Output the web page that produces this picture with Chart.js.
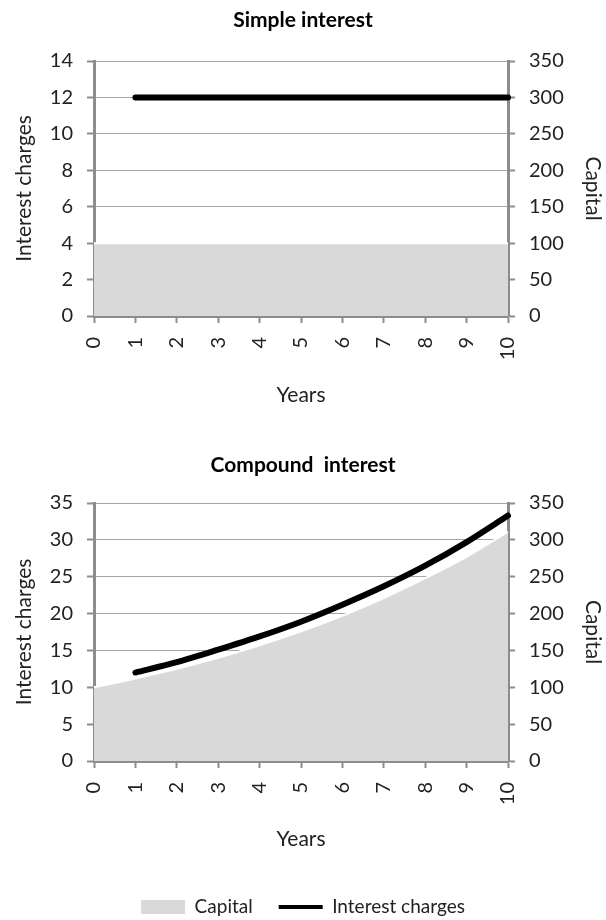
<!DOCTYPE html>
<html>
<head>
<meta charset="utf-8">
<script src="https://cdn.jsdelivr.net/npm/chart.js@4/dist/chart.umd.min.js"></script>
<style>
    html, body { margin: 0; padding: 0; background: #fff; overflow: hidden; }
    .box { position: absolute; left: 0; width: 606px; }
</style>
</head>
<body>
<div class="box" style="top:0;height:440px"><canvas id="simpleChart" width="606" height="440"></canvas></div>
<div class="box" style="top:440px;height:480px"><canvas id="compoundChart" width="606" height="480"></canvas></div>
<script>
// Data
const years = ['0', '1', '2', '3', '4', '5', '6', '7', '8', '9', '10'];

const simpleCapital = [100, 100, 100, 100, 100, 100, 100, 100, 100, 100, 100];
const simpleInterest = [null, 12, 12, 12, 12, 12, 12, 12, 12, 12, 12];

const compoundCapital = [100, 112, 125, 140, 157, 176, 197, 221, 248, 277, 311];
const compoundInterest = [null, 12, 13.4, 15.1, 16.9, 18.9, 21.2, 23.7, 26.5, 29.7, 33.3];

// Axis ranges and tick steps
const simpleInterestAxis = { max: 14, step: 2 };
const compoundInterestAxis = { max: 35, step: 5 };
const capitalAxis = { max: 350, step: 50 };

Chart.defaults.font.family = 'Lato, "DejaVu Sans", sans-serif';
Chart.defaults.color = '#222';

const axisGray = '#8c8c8c';
const gridGray = '#a6a6a6';

// Builds one of the two charts; layout numbers keep plot areas where the reference has them
function makeChart(canvasId, title, capital, interest, leftAxis, opts) {
    const ctx = document.getElementById(canvasId).getContext('2d');

    return new Chart(ctx, {
        type: 'line',
        data: {
            labels: years,
            datasets: [
                {
                    label: 'Capital',
                    data: capital,
                    yAxisID: 'y1',
                    fill: 'origin',
                    backgroundColor: '#d9d9d9',
                    borderColor: '#ffffff',
                    borderWidth: 2,
                    pointRadius: 0,
                    tension: 0.3
                },
                {
                    label: 'Interest charges',
                    data: interest,
                    yAxisID: 'y',
                    fill: false,
                    borderColor: '#000',
                    backgroundColor: '#000',
                    borderWidth: 6,
                    borderCapStyle: 'round',
                    borderJoinStyle: 'round',
                    pointRadius: 0,
                    tension: 0.3
                }
            ]
        },
        options: {
            responsive: false,
            animation: false,
            devicePixelRatio: 1,
            layout: { padding: { left: 0, right: 0, top: 0, bottom: opts.bottomPad } },
            plugins: {
                tooltip: { enabled: false },
                title: {
                    display: true,
                    text: title,
                    color: '#000',
                    font: { size: 21, weight: 'bold' },
                    padding: { top: opts.titleTop, bottom: opts.titleBottom }
                },
                legend: {
                    display: opts.legend,
                    position: 'bottom',
                    labels: {
                        usePointStyle: true,
                        pointStyleWidth: 44,
                        boxHeight: 14,
                        padding: 26,
                        font: { size: 19 },
                        color: '#222',
                        generateLabels: chart => Chart.defaults.plugins.legend.labels.generateLabels(chart).map((item, i) => {
                            if (i === 0) {
                                item.pointStyle = 'rect';
                                item.fillStyle = '#d9d9d9';
                                item.lineWidth = 0;
                            } else {
                                item.pointStyle = 'line';
                                item.strokeStyle = '#000';
                                item.lineWidth = 4;
                            }
                            return item;
                        })
                    }
                }
            },
            scales: {
                x: {
                    offset: false,
                    afterFit: scale => { scale.height = opts.xHeight; },
                    border: { display: true, color: axisGray, width: 3 },
                    grid: { drawOnChartArea: false, drawTicks: true, tickLength: 7, tickWidth: 2, tickColor: axisGray },
                    ticks: { autoSkip: false, minRotation: 90, maxRotation: 90, padding: 14, font: { size: 20 } },
                    title: {
                        display: true,
                        text: 'Years',
                        font: { size: 21 },
                        padding: { top: 4, bottom: opts.yearsPad }
                    }
                },
                y: {
                    position: 'left',
                    min: 0,
                    max: leftAxis.max,
                    afterFit: scale => { scale.width = 94; },
                    border: { display: true, color: axisGray, width: 3 },
                    grid: { color: gridGray, lineWidth: 1, tickLength: 7, tickWidth: 2, tickColor: axisGray },
                    ticks: { stepSize: leftAxis.step, padding: 14, font: { size: 20 } },
                    title: {
                        display: true,
                        text: 'Interest charges',
                        font: { size: 21 },
                        padding: { top: 12, bottom: 0 }
                    }
                },
                y1: {
                    position: 'right',
                    min: 0,
                    max: capitalAxis.max,
                    afterFit: scale => { scale.width = 98; },
                    border: { display: true, color: axisGray, width: 3 },
                    grid: { drawOnChartArea: false, tickLength: 7, tickWidth: 2, tickColor: axisGray },
                    ticks: { stepSize: capitalAxis.step, padding: 14, font: { size: 20 } },
                    title: {
                        display: true,
                        text: 'Capital',
                        font: { size: 21 },
                        padding: { top: 1, bottom: 0 }
                    }
                }
            }
        }
    });
}

// Top chart: simple interest
makeChart('simpleChart', 'Simple interest', simpleCapital, simpleInterest, simpleInterestAxis, {
    legend: false,
    bottomPad: 0,
    titleTop: 7.4,
    titleBottom: 28.4,
    xHeight: 124,
    yearsPad: 32.4
});

// Bottom chart: compound interest, carries the shared legend
makeChart('compoundChart', 'Compound  interest', compoundCapital, compoundInterest, compoundInterestAxis, {
    legend: true,
    bottomPad: -6.5,
    titleTop: 12.4,
    titleBottom: 25.4,
    xHeight: 110.5,
    yearsPad: 19.9
});
</script>
</body>
</html>
